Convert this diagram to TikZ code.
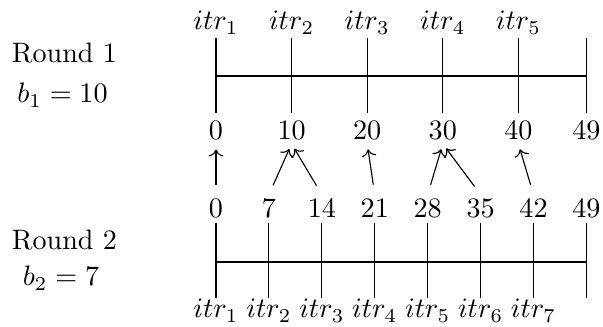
\documentclass[tikz,border=0pt]{standalone}
\usepackage{tikz}
\usetikzlibrary{arrows.meta}

\begin{document}
\begin{tikzpicture}[x=0.0125cm, y=-0.0125cm,
      num/.style={inner sep=1.5pt},
      lbl/.style={anchor=base},
      tobig/.style={-{To}, shorten <=3.6pt, shorten >=2pt}]
      \useasboundingbox (0,0) rectangle (603,327);

      % Round labels
      \node[lbl] (rnd1) at (64.5,63) {Round 1};
      \node[lbl] (bud1) at (62.5,103) {$b_1 = 10$};
      \node[lbl] (rnd2) at (64.5,250) {Round 2};
      \node[lbl] (bud2) at (61,286) {$b_2 = 7$};

      % Round 1 axis
      \draw (216,76) -- (586.4,76);
      \foreach \v in {0,10,20,30,40,49}{
        \draw ({216+7.56*\v},38) -- ({216+7.56*\v},113);
        \node[num] (t\v) at ({216+7.56*\v},130) {$\v$};
      }
      \foreach \v/\i in {0/1,10/2,20/3,30/4,40/5}
        \node[lbl] (ti\i) at ({216+7.56*\v},30) {$itr_\i$};

      % Round 2 axis
      \draw (216,262) -- (586.4,262);
      \foreach \v in {0,7,14,21,28,35,42,49}{
        \draw ({216+7.56*\v},223) -- ({216+7.56*\v},298);
        \node[num] (b\v) at ({216+7.56*\v},208.5) {$\v$};
      }
      \foreach \v/\i in {0/1,7/2,14/3,21/4,28/5,35/6,42/7}
        \node[lbl] (bi\i) at ({216+7.56*\v},318) {$itr_\i$};

      % mapping arrows
      \draw[tobig] (b0.north) -- (t0.south);
      \draw[tobig] (b7.north) -- (t10.south);
      \draw[tobig] (b14.north) -- (t10.south);
      \draw[tobig] (b21.north) -- (t20.south);
      \draw[tobig] (b28.north) -- (t30.south);
      \draw[tobig] (b35.north) -- (t30.south);
      \draw[tobig] (b42.north) -- (t40.south);

    \end{tikzpicture}
\end{document}
